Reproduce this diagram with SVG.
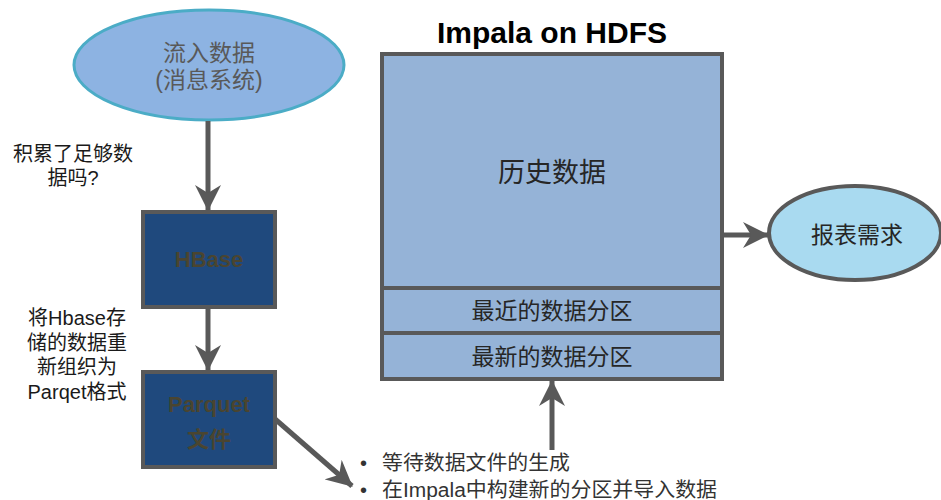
<svg xmlns="http://www.w3.org/2000/svg" width="941" height="500" viewBox="0 0 941 500">
<defs>
<style>
.cn{font-family:"Liberation Sans","Noto Sans CJK SC",sans-serif;}
.lbl{font-size:20px;fill:#1a1a1a;text-anchor:middle;}
.box{fill:#1F497D;stroke:#595959;stroke-width:4;}
.boxt{font-size:22px;font-weight:bold;fill:#4A4530;text-anchor:middle;}
.part{fill:#95B3D7;stroke:#595959;stroke-width:4;}
.pt{font-size:23px;fill:#262626;text-anchor:middle;}
.con{stroke:#595959;stroke-width:5;fill:none;}
.bul{font-size:20px;fill:#333333;}
</style>
<marker id="ah" markerUnits="userSpaceOnUse" viewBox="0 0 26 26" markerWidth="26" markerHeight="26" refX="25" refY="13" orient="auto">
<path d="M0,0 L26,13 L0,26 L8,13 Z" fill="#595959"/>
</marker>
</defs>
<rect width="941" height="500" fill="#ffffff"/>

<g id="stream">
<ellipse cx="209" cy="65" rx="135" ry="55" fill="#8DB3E2" stroke="#4BACC6" stroke-width="3"/>
<text class="cn" x="209" y="61" font-size="23" fill="#595959" text-anchor="middle">流入数据</text>
<text class="cn" x="209" y="88" font-size="23" fill="#595959" text-anchor="middle">(消息系统)</text>
</g>

<g id="hbase">
<rect class="box" x="143" y="212" width="132" height="95"/>
<text class="cn boxt" x="209" y="267">HBase</text>
</g>

<g id="parquet">
<rect class="box" x="143" y="372" width="132" height="95"/>
<text class="cn boxt" x="209" y="412">Parquet</text>
<text class="cn boxt" x="209" y="447" font-size="25" font-weight="normal">文件</text>
</g>

<g id="impala">
<text class="cn" x="552" y="43" font-size="30" font-weight="bold" fill="#000000" text-anchor="middle">Impala on HDFS</text>
<rect class="part" x="382" y="54" width="340" height="234"/>
<rect class="part" x="382" y="288" width="340" height="45"/>
<rect class="part" x="382" y="333" width="340" height="46"/>
<text class="cn" x="552" y="182" font-size="27" fill="#262626" text-anchor="middle">历史数据</text>
<text class="cn pt" x="552" y="319">最近的数据分区</text>
<text class="cn pt" x="552" y="365">最新的数据分区</text>
</g>

<g id="report">
<ellipse cx="855" cy="233" rx="86" ry="47" fill="#A9DAF0" stroke="#595959" stroke-width="4"/>
<text class="cn" x="857" y="243" font-size="23" fill="#262626" text-anchor="middle">报表需求</text>
</g>

<g id="labels">
<text class="cn lbl" x="73" y="161">积累了足够数</text>
<text class="cn lbl" x="73" y="185">据吗?</text>
<text class="cn lbl" x="77" y="325">将Hbase存</text>
<text class="cn lbl" x="77" y="350">储的数据重</text>
<text class="cn lbl" x="77" y="374">新组织为</text>
<text class="cn lbl" x="77" y="399">Parqet格式</text>
<text class="cn bul" x="360" y="470">•</text>
<text class="cn bul" x="382" y="470" textLength="188" lengthAdjust="spacingAndGlyphs">等待数据文件的生成</text>
<text class="cn bul" x="360" y="497">•</text>
<text class="cn bul" x="382" y="497" textLength="335" lengthAdjust="spacingAndGlyphs">在Impala中构建新的分区并导入数据</text>
</g>

<g id="connectors">
<line class="con" x1="208" y1="121" x2="208" y2="210" marker-end="url(#ah)"/>
<line class="con" x1="208" y1="309" x2="208" y2="370" marker-end="url(#ah)"/>
<line class="con" x1="275" y1="419" x2="352" y2="486" marker-end="url(#ah)"/>
<line class="con" x1="722" y1="235" x2="768" y2="235" marker-end="url(#ah)"/>
<line class="con" x1="552" y1="450" x2="552" y2="381" marker-end="url(#ah)"/>
</g>
</svg>
